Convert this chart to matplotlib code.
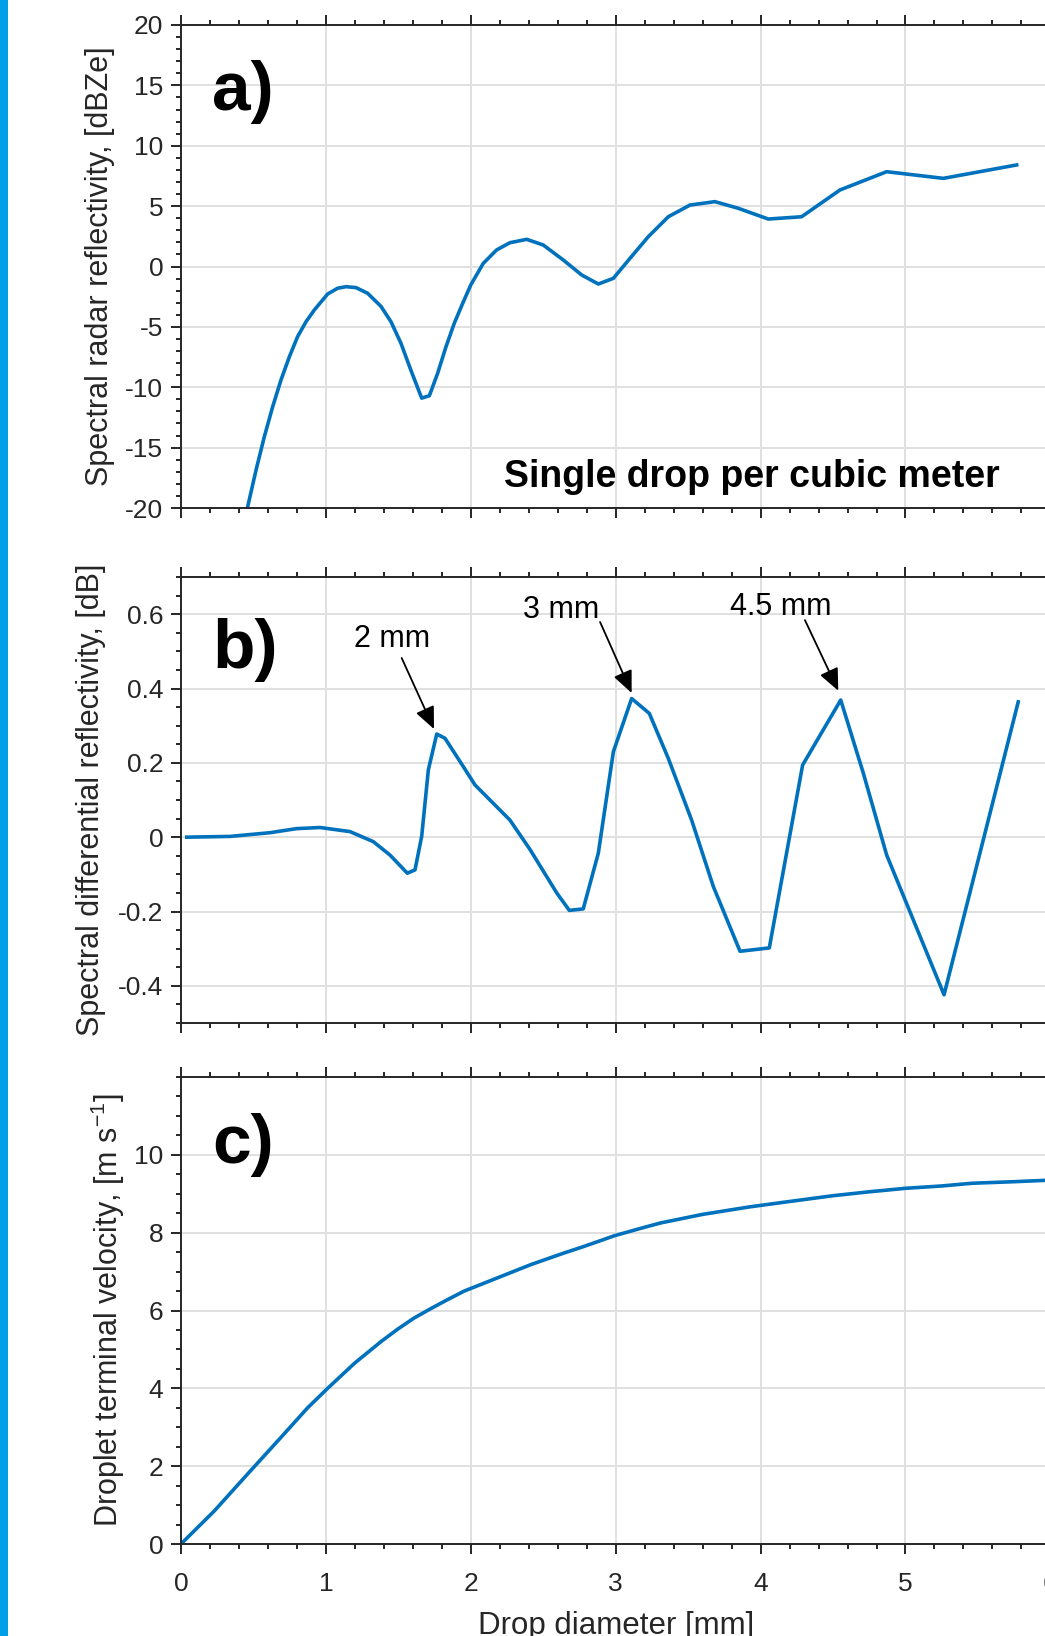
import matplotlib
matplotlib.use('Agg')
import matplotlib.pyplot as plt
from matplotlib.patches import Rectangle
from matplotlib.ticker import MultipleLocator, FixedLocator, FuncFormatter

plt.rcParams['font.family'] = ['Liberation Sans', 'DejaVu Sans']
plt.rcParams['axes.unicode_minus'] = False
plt.rcParams['mathtext.default'] = 'regular'

# a) spectral radar reflectivity, single drop per m^3
d_ze = [0.46, 0.518, 0.575, 0.633, 0.69, 0.748, 0.805, 0.863, 0.92, 1.012, 1.081,
        1.139, 1.208, 1.288, 1.38, 1.449, 1.518, 1.587, 1.661, 1.714, 1.771, 1.829,
        1.886, 1.944, 2.001, 2.086, 2.178, 2.27, 2.386, 2.50, 2.638, 2.765, 2.88,
        2.984, 3.099, 3.225, 3.363, 3.513, 3.685, 3.846, 4.053, 4.283, 4.548, 4.87,
        5.261, 5.767]
ze = [-19.9, -16.85, -14.1, -11.6, -9.4, -7.47, -5.8, -4.57, -3.6, -2.28, -1.8,
      -1.67, -1.75, -2.22, -3.3, -4.57, -6.36, -8.6, -10.9, -10.7, -8.85, -6.64,
      -4.7, -3.05, -1.5, 0.26, 1.37, 1.97, 2.25, 1.78, 0.54, -0.70, -1.45,
      -0.98, 0.68, 2.47, 4.12, 5.09, 5.37, 4.82, 3.93, 4.12, 6.34, 7.85,
      7.30, 8.41]

# b) spectral differential reflectivity
d_zdr = [0.04, 0.338, 0.614, 0.798, 0.959, 1.166, 1.327, 1.442, 1.562, 1.615, 1.661,
         1.707, 1.765, 1.822, 1.948, 2.029, 2.27, 2.41, 2.593, 2.68, 2.776, 2.88,
         2.984, 3.11, 3.232, 3.363, 3.524, 3.674, 3.858, 4.06, 4.29, 4.553, 4.709,
         4.87, 5.266, 5.778]
zdr = [0, 0.002, 0.012, 0.023, 0.026, 0.015, -0.012, -0.048, -0.097, -0.088, 0.002,
       0.181, 0.2775, 0.266, 0.19, 0.1405, 0.046, -0.034, -0.15, -0.197, -0.193, -0.043,
       0.23, 0.373, 0.333, 0.212, 0.046, -0.133, -0.307, -0.298, 0.194, 0.369, 0.172,
       -0.048, -0.424, 0.364]

# c) terminal velocity
d_v = [0.0, 0.23, 0.46, 0.69, 0.874, 1.012, 1.196, 1.38, 1.495, 1.61, 1.725, 1.84,
       1.955, 2.07, 2.185, 2.30, 2.415, 2.53, 2.645, 2.76, 2.876, 2.99, 3.152, 3.31,
       3.6, 3.92, 4.157, 4.5, 4.75, 5.0, 5.25, 5.46, 5.75, 6.0]
vt = [0.0, 0.85, 1.80, 2.74, 3.50, 4.00, 4.64, 5.20, 5.52, 5.81, 6.05, 6.28,
      6.50, 6.67, 6.84, 7.01, 7.18, 7.33, 7.48, 7.62, 7.77, 7.92, 8.09, 8.25,
      8.47, 8.66, 8.78, 8.95, 9.05, 9.14, 9.20, 9.27, 9.31, 9.35]

peaks = [(1.746, 0.291, '2 mm'), (3.11, 0.388, '3 mm'), (4.536, 0.394, '4.5 mm')]
tails = [(1.523, 0.482), (2.892, 0.579), (4.306, 0.584)]
label_pos = [(1.46, 0.534), (2.625, 0.611), (4.138, 0.619)]

line_c = '#0072bd'
ax_c = '#262626'
W, H = 1045, 1636

fig = plt.figure(figsize=(W / 100, H / 100), dpi=100)
fig.add_artist(Rectangle((0, 0), 7.5 / W, 1, transform=fig.transFigure,
                         color='#00a0e9', lw=0))

left, width = 181 / W, 869.4 / W
boxes = [(25, 508), (577, 1023), (1077, 1544)]
axs = []
for top, bot in boxes:
    ax = fig.add_axes([left, 1 - bot / H, width, (bot - top) / H])
    axs.append(ax)


def fmt(v, p):
    if abs(v) < 1e-9:
        return '0'
    return f'{round(v, 3):g}'


for ax in axs:
    ax.set_xlim(0, 6)
    ax.xaxis.set_major_locator(MultipleLocator(1))
    ax.xaxis.set_minor_locator(MultipleLocator(0.2))
    ax.grid(True, which='major', color='#e0e0e0', lw=1.4)
    ax.set_axisbelow(True)
    for s in ax.spines.values():
        s.set_color(ax_c)
        s.set_linewidth(1.4)
    ax.tick_params(which='both', direction='out', top=True, right=True,
                   color=ax_c, width=1.4, labelsize=19, labelcolor=ax_c)
    ax.tick_params(which='major', length=7.2)
    ax.tick_params(which='minor', length=3.6)
    ax.tick_params(axis='y', pad=5.5)
    ax.tick_params(axis='x', pad=13)
    ax.yaxis.set_major_formatter(FuncFormatter(fmt))

# panel a
ax = axs[0]
ax.plot(d_ze, ze, color=line_c, lw=2.6)
ax.set_ylim(-20, 20)
ax.yaxis.set_major_locator(MultipleLocator(5))
ax.yaxis.set_minor_locator(MultipleLocator(1))
ax.set_xticklabels([])
ax.set_ylabel('Spectral radar reflectivity, [dBZe]', fontsize=22, color=ax_c)
ax.yaxis.set_label_coords(-0.0932, 0.5)
ax.yaxis.label.set_va('center')
ax.text(0.036, 0.861, 'a)', transform=ax.transAxes, fontsize=50,
        fontweight='bold', ha='left', va='center')
ax.text(5.652, -18.26, 'Single drop per cubic meter', fontsize=27,
        fontweight='bold', ha='right', va='baseline')

# panel b
ax = axs[1]
ax.plot(d_zdr, zdr, color=line_c, lw=2.6)
ax.set_ylim(-0.5, 0.7)
ax.yaxis.set_major_locator(MultipleLocator(0.2))
ax.yaxis.set_minor_locator(MultipleLocator(0.05))
ax.set_xticklabels([])
ax.set_ylabel('Spectral differential reflectivity, [dB]', fontsize=22, color=ax_c)
ax.yaxis.set_label_coords(-0.1035, 0.5)
ax.yaxis.label.set_va('center')
ax.text(0.036, 0.836, 'b)', transform=ax.transAxes, fontsize=50,
        fontweight='bold', ha='left', va='center')
for (px, py, lab), (tx, ty), (lx, ly) in zip(peaks, tails, label_pos):
    ax.annotate('', xy=(px, py), xytext=(tx, ty),
                arrowprops=dict(arrowstyle='-|>,head_length=0.45,head_width=0.2',
                                color='k', lw=1.3, mutation_scale=30,
                                shrinkA=0, shrinkB=0))
    ax.text(lx, ly, lab, fontsize=22, ha='center', va='center')

# panel c
ax = axs[2]
ax.plot(d_v, vt, color=line_c, lw=2.6)
ax.set_ylim(0, 12)
ax.yaxis.set_major_locator(FixedLocator([0, 2, 4, 6, 8, 10]))
ax.yaxis.set_minor_locator(MultipleLocator(0.5))
ax.set_ylabel('Droplet terminal velocity, [m s$^{-1}$]', fontsize=22, color=ax_c)
ax.yaxis.set_label_coords(-0.084, 0.5)
ax.yaxis.label.set_va('center')
ax.set_xlabel('Drop diameter [mm]', fontsize=22.5, color=ax_c)
ax.xaxis.set_label_coords(0.5, -0.1441)
ax.xaxis.label.set_va('top')
ax.text(0.036, 0.854, 'c)', transform=ax.transAxes, fontsize=50,
        fontweight='bold', ha='left', va='center')

fig.savefig('out.png', dpi=100)
